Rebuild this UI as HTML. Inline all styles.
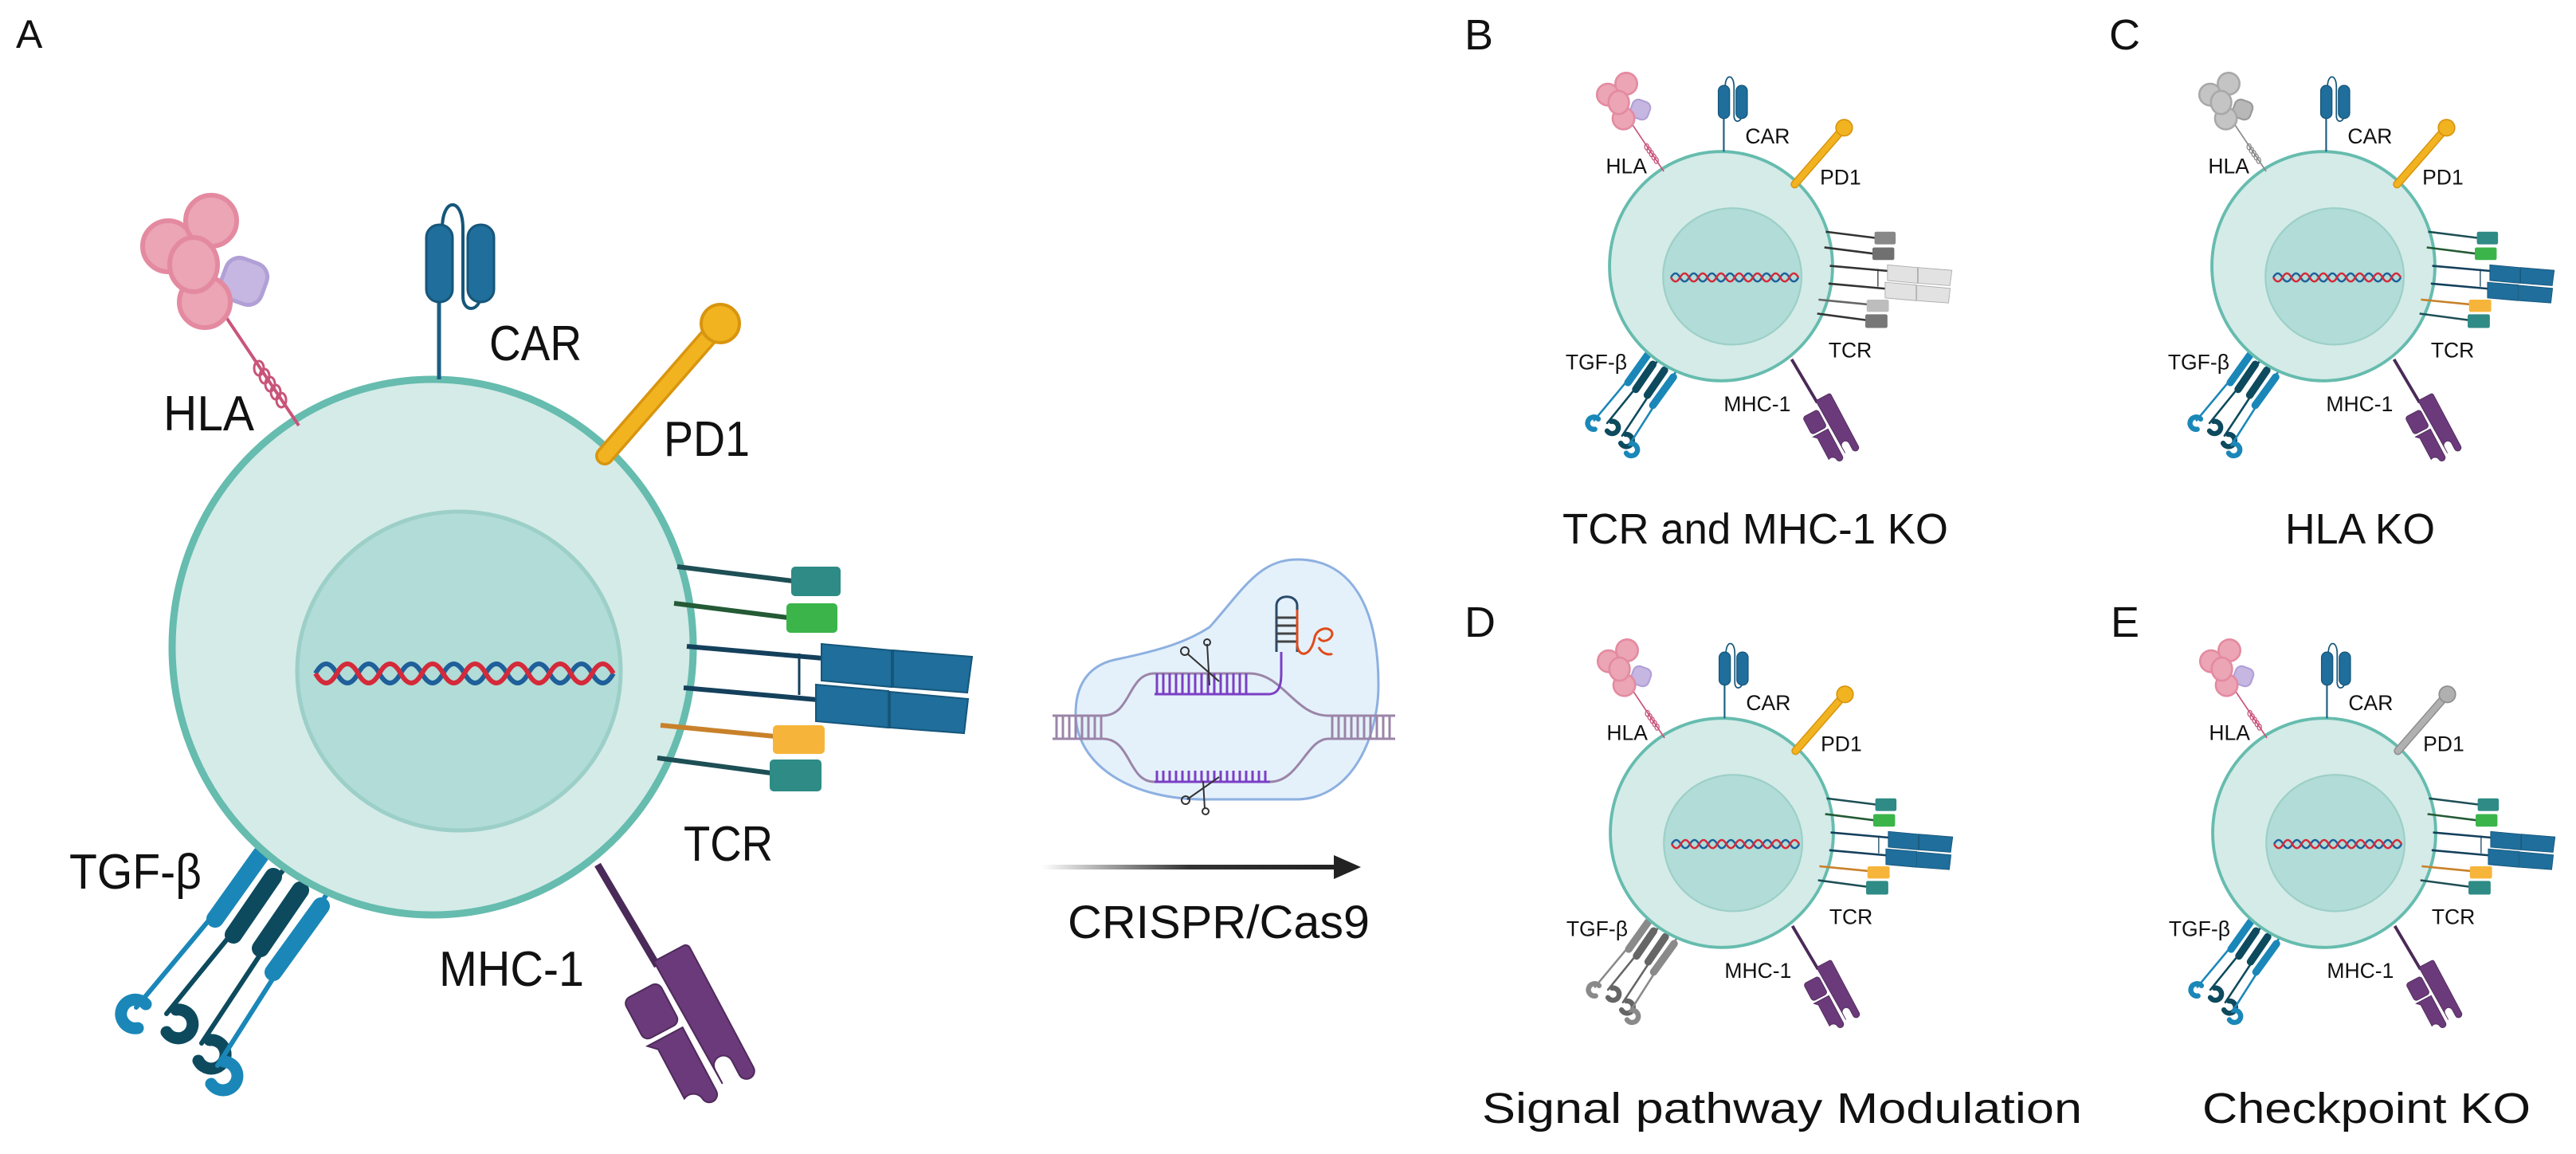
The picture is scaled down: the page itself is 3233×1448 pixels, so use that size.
<!DOCTYPE html>
<html><head><meta charset="utf-8"><style>
html,body{margin:0;padding:0;background:#fff;}
svg{display:block;}
text{font-family:"Liberation Sans",sans-serif;fill:#111;}
</style></head><body>
<svg width="3233" height="1448" viewBox="0 0 3233 1448" xmlns="http://www.w3.org/2000/svg">
<defs>
<linearGradient id="ag" x1="0" x2="1" y1="0" y2="0">
<stop offset="0" stop-color="#333" stop-opacity="0"/><stop offset="0.5" stop-color="#333"/><stop offset="1" stop-color="#222"/>
</linearGradient>
<g id="cell">
  <!-- TGF-beta receptors -->
  <g stroke-linecap="round" fill="none">
    <line x1="-211" y1="259" x2="-372" y2="452" style="stroke:var(--g1,#1a87b8)" stroke-width="6"/>
    <line x1="-216" y1="261" x2="-273" y2="341" style="stroke:var(--g1,#1a87b8)" stroke-width="22"/>
    <path d="M-360,448 a18,18 0 1,0 -10,30" style="stroke:var(--g1,#1a87b8)" stroke-width="15"/>
    <line x1="-186" y1="278" x2="-334" y2="460" style="stroke:var(--g2,#0d4a5e)" stroke-width="6"/>
    <line x1="-200" y1="288" x2="-250" y2="361" style="stroke:var(--g2,#0d4a5e)" stroke-width="22"/>
    <path d="M-322,455 a18,18 0 1,1 -12,28" style="stroke:var(--g2,#0d4a5e)" stroke-width="15"/>
    <line x1="-157" y1="296" x2="-290" y2="497" style="stroke:var(--g2,#0d4a5e)" stroke-width="6"/>
    <line x1="-166" y1="305" x2="-216" y2="378" style="stroke:var(--g2,#0d4a5e)" stroke-width="22"/>
    <path d="M-280,493 a18,18 0 1,1 -14,26" style="stroke:var(--g2,#0d4a5e)" stroke-width="15"/>
    <line x1="-133" y1="310" x2="-270" y2="525" style="stroke:var(--g1,#1a87b8)" stroke-width="6"/>
    <line x1="-140" y1="325" x2="-200" y2="408" style="stroke:var(--g1,#1a87b8)" stroke-width="22"/>
    <path d="M-262,520 a18,18 0 1,1 -16,28" style="stroke:var(--g1,#1a87b8)" stroke-width="15"/>
  </g>
  <!-- membrane -->
  <ellipse cx="0" cy="0" rx="327" ry="336" fill="#d4ebe8" stroke="#66bcae" stroke-width="9"/>
  <ellipse cx="33" cy="30" rx="203" ry="200" fill="#b1dcd7" stroke="#9ccfc7" stroke-width="5"/>
  <!-- DNA -->
  <path d="M-147,33 q13.35,-24 26.7,0 t26.7,0 t26.7,0 t26.7,0 t26.7,0 t26.7,0 t26.7,0 t26.7,0 t26.7,0 t26.7,0 t26.7,0 t26.7,0 t26.7,0 t26.7,0" fill="none" stroke="#1f5f9a" stroke-width="6"/>
  <path d="M-147,33 q13.35,24 26.7,0 t26.7,0 t26.7,0 t26.7,0 t26.7,0 t26.7,0 t26.7,0 t26.7,0 t26.7,0 t26.7,0 t26.7,0 t26.7,0 t26.7,0 t26.7,0" fill="none" stroke="#d42a3a" stroke-width="6"/>
  <!-- CAR -->
  <line x1="8" y1="-336" x2="8" y2="-433" stroke="#1b5e80" stroke-width="5"/>
  <path d="M12,-525 C12,-565 38,-565 38,-525 L38,-440 C38,-420 58,-420 60,-440" fill="none" stroke="#16567a" stroke-width="4"/>
  <rect x="-8" y="-530" width="33" height="97" rx="16" fill="#1f6e9c" stroke="#16567a" stroke-width="3"/>
  <rect x="44" y="-530" width="33" height="97" rx="16" fill="#1f6e9c" stroke="#16567a" stroke-width="3"/>
  <!-- HLA -->
  <line x1="-168" y1="-278" x2="-270" y2="-430" style="stroke:var(--hl,#c9547a)" stroke-width="4"/>
  <g fill="none" style="stroke:var(--hl,#c9547a)" stroke-width="3">
    <ellipse cx="-190" cy="-310" rx="6" ry="9"/><ellipse cx="-197" cy="-320" rx="6" ry="9"/>
    <ellipse cx="-204" cy="-330" rx="6" ry="9"/><ellipse cx="-211" cy="-340" rx="6" ry="9"/>
    <ellipse cx="-218" cy="-350" rx="6" ry="9"/>
  </g>
  <g style="fill:var(--h2,#c5b6e2);stroke:var(--h2s,#b1a0d6)" stroke-width="5">
    <rect x="-264" y="-486" width="54" height="54" rx="18" transform="rotate(20 -237 -459)"/>
  </g>
  <g style="fill:var(--h1,#eba5b5);stroke:var(--h1s,#e48aa0)" stroke-width="6">
    <circle cx="-332" cy="-503" r="32"/>
    <circle cx="-278" cy="-535" r="32"/>
    <circle cx="-286" cy="-433" r="32"/>
    <ellipse cx="-300" cy="-480" rx="30" ry="34"/>
  </g>
  <!-- PD1 -->
  <line x1="216" y1="-240" x2="352" y2="-396" style="stroke:var(--pdo,#d8950f)" stroke-width="24" stroke-linecap="round"/>
  <line x1="216" y1="-240" x2="352" y2="-396" style="stroke:var(--pd,#f2b320)" stroke-width="17" stroke-linecap="round"/>
  <circle cx="361" cy="-406" r="24" style="fill:var(--pd,#f2b320);stroke:var(--pdo,#d8950f)" stroke-width="4"/>
  <!-- TCR -->
  <g stroke-width="6">
    <line x1="307" y1="-101" x2="452" y2="-83" style="stroke:var(--tl,#1d4f55)"/>
    <line x1="303" y1="-55" x2="446" y2="-37" style="stroke:var(--tl2,#245a35)"/>
    <line x1="319" y1="-1" x2="490" y2="14" style="stroke:var(--tl,#14405c)"/>
    <line x1="315" y1="51" x2="483" y2="66" style="stroke:var(--tl,#14405c)"/>
    <line x1="460" y1="8" x2="460" y2="60" style="stroke:var(--tl,#14405c)" stroke-width="3"/>
    <line x1="286" y1="98" x2="430" y2="112" style="stroke:var(--tl5,#c8812a)"/>
    <line x1="282" y1="139" x2="425" y2="158" style="stroke:var(--tl,#1d4f55)"/>
  </g>
  <rect x="450" y="-101" width="62" height="37" rx="5" style="fill:var(--t1,#2e8b85)"/>
  <rect x="444" y="-55" width="64" height="37" rx="5" style="fill:var(--t2,#3bb54a)"/>
  <g style="fill:var(--t3,#1f6e9c);stroke:var(--t3s,#16567a)" stroke-width="2">
    <polygon points="488,-4 576,4 576,50 488,42"/>
    <polygon points="578,4 677,12 671,57 578,50"/>
    <polygon points="481,47 572,55 572,101 481,93"/>
    <polygon points="574,56 672,65 667,108 574,101"/>
  </g>
  <rect x="427" y="98" width="65" height="36" rx="5" style="fill:var(--t5,#f6b53a)"/>
  <rect x="423" y="141" width="65" height="40" rx="5" style="fill:var(--t6,#2e8b85)"/>
  <!-- MHC-1 -->
  <line x1="207" y1="273" x2="282" y2="400" stroke="#4a2a58" stroke-width="9"/>
  <g transform="translate(282,392) rotate(-28)" fill="#6b3a7a" stroke="#4f2a5c" stroke-width="2">
    <path d="M-5,0 h42 a6,6 0 0 1 6,6 v170 a10,10 0 0 1 -20,0 v-20 a12,12 0 0 0 -24,0 v20 z"/>
    <rect x="-62" y="25" width="50" height="58" rx="9"/>
    <path d="M-62,90 h50 v90 a10,10 0 0 1 -20,0 a14,14 0 0 0 -20,-10 v-70 z"/>
  </g>
</g>
</defs>

<!-- Panel A -->
<text x="20" y="60" font-size="50">A</text>
<g transform="translate(543,812)">
  <use href="#cell"/>
  <g font-size="62">
    <text x="71" y="-360" textLength="116" lengthAdjust="spacingAndGlyphs">CAR</text>
    <text x="-338" y="-272" textLength="114" lengthAdjust="spacingAndGlyphs">HLA</text>
    <text x="290" y="-240" textLength="108" lengthAdjust="spacingAndGlyphs">PD1</text>
    <text x="315" y="268" textLength="112" lengthAdjust="spacingAndGlyphs">TCR</text>
    <text x="-456" y="303" textLength="166" lengthAdjust="spacingAndGlyphs">TGF-β</text>
    <text x="8" y="425" textLength="182" lengthAdjust="spacingAndGlyphs">MHC-1</text>
  </g>
</g>

<!-- CRISPR -->
<path d="M1403,827 C1460,815 1490,805 1518,787 C1560,740 1580,702 1628,702 C1695,702 1730,760 1730,860 C1730,920 1700,1000 1630,1003 L1518,1003 C1420,1005 1350,960 1350,895 C1350,855 1370,833 1403,827 Z" fill="#e4f1fb" stroke="#8db0e0" stroke-width="3"/>
<g stroke="#9b85a8" stroke-width="3" fill="none">
  <path d="M1321,898 H1384 C1420,898 1415,845 1449,845 H1568 C1610,845 1625,898 1667,898 H1751"/>
  <path d="M1321,927 H1384 C1420,927 1415,981 1449,981 H1594 C1630,981 1640,927 1667,927 H1751"/>
  <path d="M1326,898 V927 M1334,898 V927 M1342,898 V927 M1350,898 V927 M1358,898 V927 M1366,898 V927 M1374,898 V927 M1382,898 V927 M1672,898 V927 M1680,898 V927 M1688,898 V927 M1696,898 V927 M1704,898 V927 M1712,898 V927 M1720,898 V927 M1728,898 V927 M1736,898 V927 M1744,898 V927"/>
</g>
<g stroke="#7b3fc4" stroke-width="3" fill="none">
  <path d="M1449,871 H1592 C1605,871 1608,860 1608,845 V818"/>
  <path d="M1452,845 V871 M1460,845 V871 M1468,845 V871 M1476,845 V871 M1484,845 V871 M1492,845 V871 M1500,845 V871 M1508,845 V871 M1516,845 V871 M1524,845 V871 M1532,845 V871 M1540,845 V871 M1548,845 V871 M1556,845 V871 M1564,845 V871"/>
  <path d="M1449,981 H1594 M1452,967 V981 M1460,967 V981 M1468,967 V981 M1476,967 V981 M1484,967 V981 M1492,967 V981 M1500,967 V981 M1508,967 V981 M1516,967 V981 M1524,967 V981 M1532,967 V981 M1540,967 V981 M1548,967 V981 M1556,967 V981 M1564,967 V981 M1572,967 V981 M1580,967 V981 M1588,967 V981"/>
</g>
<path d="M1602,818 V760 C1602,745 1628,745 1628,760 V818" fill="none" stroke="#2a4a6a" stroke-width="3"/>
<path d="M1602,775 H1628 M1602,785 H1628 M1602,795 H1628 M1602,805 H1628" stroke="#444" stroke-width="3"/>
<path d="M1628,765 V810 C1630,825 1645,825 1650,800 C1652,790 1665,785 1671,792 C1676,800 1660,810 1655,800 M1655,812 C1660,822 1670,822 1672,820" fill="none" stroke="#e04a1a" stroke-width="3"/>
<g stroke="#333" stroke-width="2" fill="none">
  <path d="M1490,820 L1530,855 M1515,808 L1518,860"/>
  <circle cx="1487" cy="817" r="5"/><circle cx="1515" cy="806" r="4"/>
  <path d="M1490,1003 L1530,975 M1510,980 L1512,1015"/>
  <circle cx="1488" cy="1004" r="5"/><circle cx="1513" cy="1018" r="4"/>
</g>
<rect x="1307" y="1085" width="370" height="6" fill="url(#ag)"/>
<polygon points="1674,1073 1708,1088 1674,1103" fill="#222"/>
<text x="1340" y="1177" font-size="58" textLength="379" lengthAdjust="spacingAndGlyphs">CRISPR/Cas9</text>

<!-- Panel labels -->
<text x="1838" y="62" font-size="54">B</text>
<text x="2647" y="62" font-size="54">C</text>
<text x="1838" y="799" font-size="54">D</text>
<text x="2649" y="799" font-size="54">E</text>

<!-- B -->
<g transform="translate(2160,334) scale(0.428)">
  <use href="#cell" style="--t1:#888;--t2:#707070;--t3:#e2e2e2;--t3s:#aaa;--t5:#bdbdbd;--t6:#777;--tl:#333;--tl2:#333;--tl5:#666"/>
  <g font-size="62">
    <text x="71" y="-360">CAR</text><text x="-338" y="-272">HLA</text><text x="290" y="-240">PD1</text>
    <text x="315" y="268">TCR</text><text x="-456" y="303">TGF-β</text><text x="8" y="425">MHC-1</text>
  </g>
</g>
<text x="1961" y="682" font-size="54" textLength="484" lengthAdjust="spacingAndGlyphs">TCR and MHC-1 KO</text>

<!-- C -->
<g transform="translate(2916,334) scale(0.428)">
  <use href="#cell" style="--h1:#c4c4c4;--h1s:#a8a8a8;--h2:#b8b8b8;--h2s:#999;--hl:#8a8a8a"/>
  <g font-size="62">
    <text x="71" y="-360">CAR</text><text x="-338" y="-272">HLA</text><text x="290" y="-240">PD1</text>
    <text x="315" y="268">TCR</text><text x="-456" y="303">TGF-β</text><text x="8" y="425">MHC-1</text>
  </g>
</g>
<text x="2868" y="682" font-size="54" textLength="188" lengthAdjust="spacingAndGlyphs">HLA KO</text>

<!-- D -->
<g transform="translate(2161,1045) scale(0.428)">
  <use href="#cell" style="--g1:#8a8a8a;--g2:#666"/>
  <g font-size="62">
    <text x="71" y="-360">CAR</text><text x="-338" y="-272">HLA</text><text x="290" y="-240">PD1</text>
    <text x="315" y="268">TCR</text><text x="-456" y="303">TGF-β</text><text x="8" y="425">MHC-1</text>
  </g>
</g>
<text x="1860" y="1409" font-size="54" textLength="753" lengthAdjust="spacingAndGlyphs">Signal pathway Modulation</text>

<!-- E -->
<g transform="translate(2917,1045) scale(0.428)">
  <use href="#cell" style="--pd:#b0b0b0;--pdo:#8e8e8e"/>
  <g font-size="62">
    <text x="71" y="-360">CAR</text><text x="-338" y="-272">HLA</text><text x="290" y="-240">PD1</text>
    <text x="315" y="268">TCR</text><text x="-456" y="303">TGF-β</text><text x="8" y="425">MHC-1</text>
  </g>
</g>
<text x="2764" y="1409" font-size="54" textLength="412" lengthAdjust="spacingAndGlyphs">Checkpoint KO</text>
</svg>
</body></html>
